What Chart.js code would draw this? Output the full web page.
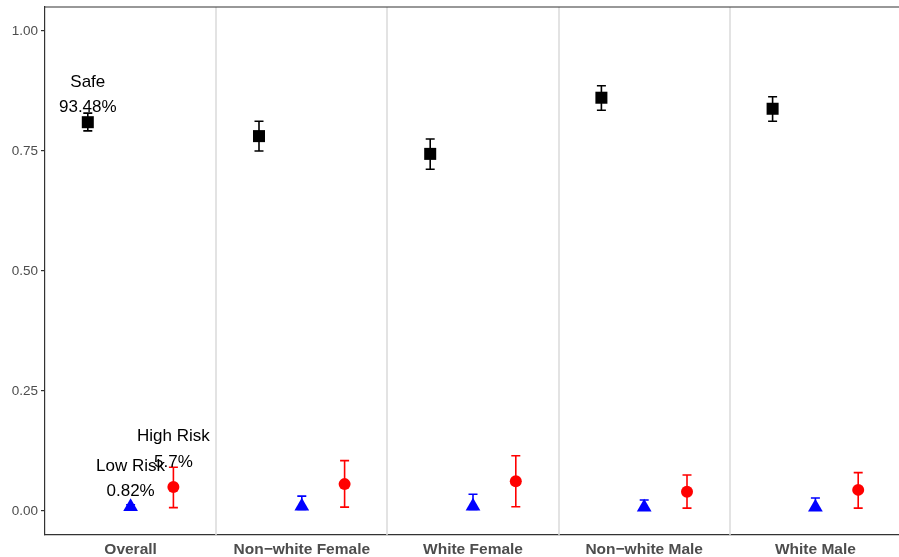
<!DOCTYPE html>
<html>
<head>
<meta charset="utf-8">
<script src="https://cdn.jsdelivr.net/npm/chart.js@4/dist/chart.umd.min.js"></script>
<style>
  html, body { margin: 0; padding: 0; background: #fff; overflow: hidden; width: 899px; height: 557px; }
  canvas { display: block; }
</style>
</head>
<body>
<canvas id="c" width="903" height="557"></canvas>
<script>
// Groups along the x axis
const categories = ['Overall', 'Non\u2212white Female', 'White Female', 'Non\u2212white Male', 'White Male'];

// Estimated probability and interval per risk class
const safe    = [0.810, 0.781, 0.744, 0.861, 0.838];
const safeLo  = [0.792, 0.750, 0.712, 0.835, 0.812];
const safeHi  = [0.829, 0.812, 0.775, 0.886, 0.863];

const lowRisk   = [0.009, 0.010, 0.010, 0.008, 0.008];
const lowRiskLo = [0.005, 0.003, 0.003, 0.002, 0.002];
const lowRiskHi = [0.013, 0.031, 0.035, 0.023, 0.027];

const highRisk   = [0.050, 0.056, 0.062, 0.040, 0.044];
const highRiskLo = [0.007, 0.008, 0.009, 0.006, 0.006];
const highRiskHi = [0.091, 0.105, 0.115, 0.075, 0.080];

const yTicks = [0, 0.25, 0.5, 0.75, 1];

// Observed shares written on the first group
const noteText = ['Safe', '93.48%', 'High Risk', '5.7%', 'Low Risk', '0.82%'];
const noteX    = [-0.25, -0.25, 0.25, 0.25, 0, 0];
const noteY    = [0.894, 0.840, 0.156, 0.102, 0.094, 0.040];

const dodge = 0.25;
const pts = (vals, off) => vals.map((v, i) => ({ x: i + off, y: v }));

const series = [
  { label: 'Safe', data: pts(safe, -dodge), lo: safeLo, hi: safeHi, off: -dodge, color: '#000000', style: 'rect', r: 8.5 },
  { label: 'Low Risk', data: pts(lowRisk, 0), lo: lowRiskLo, hi: lowRiskHi, off: 0, color: '#0000FF', style: 'triangle', r: 8.5 },
  { label: 'High Risk', data: pts(highRisk, dodge), lo: highRiskLo, hi: highRiskHi, off: dodge, color: '#FF0000', style: 'circle', r: 6 }
];

const extras = {
  id: 'extras',
  beforeDatasetsDraw(chart) {
    const { ctx, chartArea: a, scales: { x, y } } = chart;
    ctx.save();
    // group separators
    ctx.strokeStyle = '#DADADA';
    ctx.lineWidth = 1.5;
    for (let i = 0; i < categories.length - 1; i++) {
      const px = Math.round(x.getPixelForValue(i + 0.5));
      ctx.beginPath(); ctx.moveTo(px, a.top); ctx.lineTo(px, a.bottom); ctx.stroke();
    }
    // top frame line
    ctx.strokeStyle = '#333333';
    ctx.lineWidth = 1.2;
    ctx.beginPath(); ctx.moveTo(a.left, a.top); ctx.lineTo(a.right, a.top); ctx.stroke();
    // error bars
    series.forEach(s => {
      ctx.strokeStyle = s.color;
      ctx.lineWidth = 1.6;
      s.lo.forEach((lo, i) => {
        const px = x.getPixelForValue(i + s.off);
        const p1 = y.getPixelForValue(lo), p2 = y.getPixelForValue(s.hi[i]);
        ctx.beginPath();
        ctx.moveTo(px, p1); ctx.lineTo(px, p2);
        ctx.moveTo(px - 4.5, p1); ctx.lineTo(px + 4.5, p1);
        ctx.moveTo(px - 4.5, p2); ctx.lineTo(px + 4.5, p2);
        ctx.stroke();
      });
    });
    ctx.restore();
  },
  afterDatasetsDraw(chart) {
    const { ctx, scales: { x, y } } = chart;
    ctx.save();
    ctx.fillStyle = '#000';
    ctx.font = '17px "Liberation Sans", Arial, sans-serif';
    ctx.textAlign = 'center';
    ctx.textBaseline = 'middle';
    noteText.forEach((t, i) => ctx.fillText(t, x.getPixelForValue(noteX[i]), y.getPixelForValue(noteY[i])));
    ctx.restore();
  }
};

new Chart(document.getElementById('c'), {
  type: 'scatter',
  data: {
    datasets: series.map(s => ({
      label: s.label,
      data: s.data,
      pointStyle: s.style,
      pointRadius: s.r,
      pointHoverRadius: s.r,
      pointBackgroundColor: s.color,
      pointBorderColor: s.color,
      pointBorderWidth: 0,
      showLine: false
    }))
  },
  options: {
    responsive: false,
    animation: false,
    devicePixelRatio: 1,
    layout: { autoPadding: false, padding: { top: 7, right: 2, left: 0, bottom: 0 } },
    plugins: { legend: { display: false }, tooltip: { enabled: false } },
    scales: {
      x: {
        type: 'linear',
        min: -0.5,
        max: 4.5,
        afterBuildTicks(scale) { scale.ticks = categories.map((_, i) => ({ value: i })); },
        afterFit(scale) { scale.height = 22; scale.paddingLeft = 0; scale.paddingRight = 0; },
        grid: { display: false, drawTicks: false },
        border: { display: true, color: '#333333', width: 1.2 },
        ticks: {
          padding: 5,
          maxRotation: 0,
          autoSkip: false,
          color: '#4D4D4D',
          font: { family: '"Liberation Sans", Arial, sans-serif', size: 15.5, weight: 'bold' },
          callback: v => categories[v]
        }
      },
      y: {
        min: -0.05,
        max: 1.05,
        afterBuildTicks(scale) { scale.ticks = yTicks.map(v => ({ value: v })); },
        afterFit(scale) { scale.width = 45; scale.paddingTop = 0; scale.paddingBottom = 0; },
        grid: { display: true, drawOnChartArea: false, drawTicks: true, tickLength: 4, color: '#333333', lineWidth: 1.2 },
        border: { display: true, color: '#333333', width: 1.2 },
        ticks: {
          padding: 3,
          color: '#4D4D4D',
          font: { family: '"Liberation Sans", Arial, sans-serif', size: 13.5 },
          callback: v => v.toFixed(2)
        }
      }
    }
  },
  plugins: [extras]
});
</script>
</body>
</html>
